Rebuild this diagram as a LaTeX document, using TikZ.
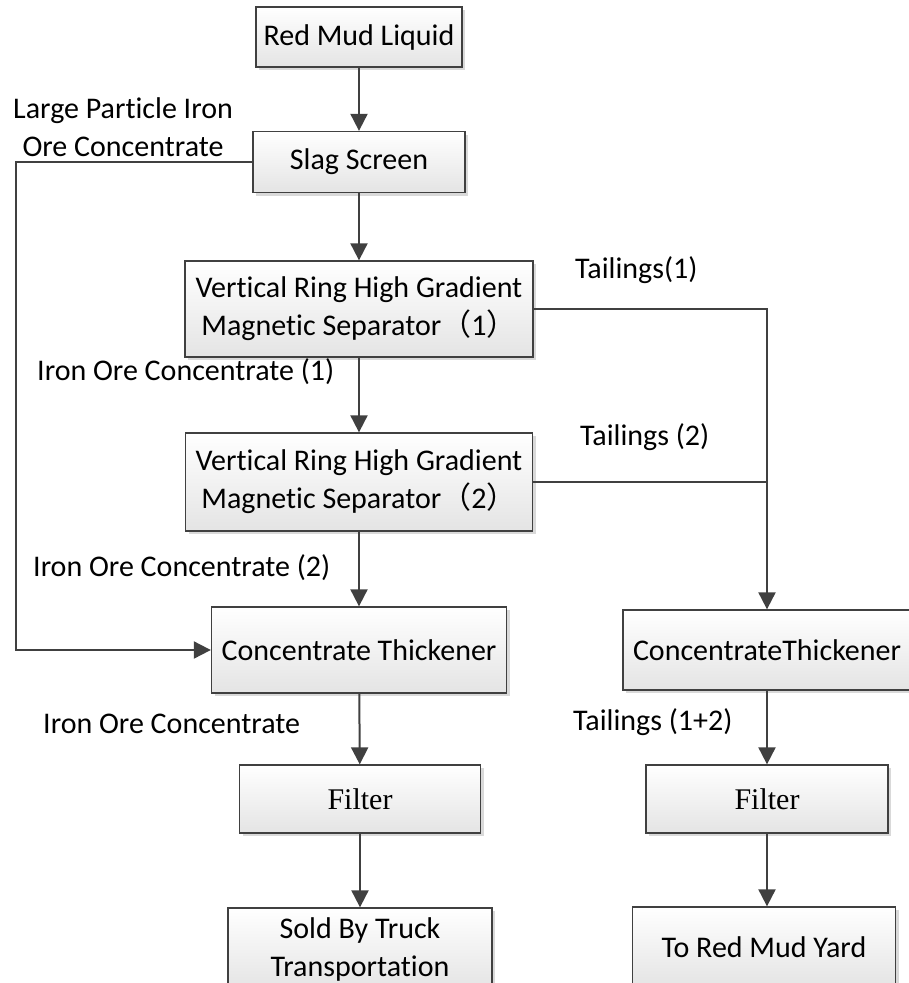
\documentclass[tikz,border=0pt]{standalone}
\usepackage{fontspec}
\setmainfont{Carlito}[Ligatures={NoCommon,NoContextual}]
\newfontfamily\serifrm{Liberation Serif}
\newfontfamily\cjk{Noto Sans CJK SC}
\newcommand{\nolig}{\kern0pt}
\usetikzlibrary{arrows.meta,shadows}
\definecolor{edgegray}{HTML}{404040}
\definecolor{shadegray}{HTML}{E4E4E4}

\begin{document}
\begin{tikzpicture}
[
x=1pt, y=-1pt,
every node/.style={font=\fontsize{30}{38}\selectfont, inner sep=0pt},
proc/.style={draw=edgegray, line width=1.3pt, top color=white, bottom color=shadegray,
  drop shadow={shadow xshift=3pt, shadow yshift=-3pt, fill=black!15, opacity=1}, align=center},
tag/.style={anchor=west, align=center},
flow/.style={draw=edgegray, line width=2pt, -{Triangle[length=17pt,width=17pt]}},
pipe/.style={draw=edgegray, line width=2pt}
]
\useasboundingbox (0,0) rectangle (909,983);

\node[proc, minimum width=206pt, minimum height=60pt] (rml) at (359,37) {Red Mud Liquid};
\node[proc, minimum width=212pt, minimum height=61pt] (slag) at (359,162) {Slag Screen};
\node[proc, minimum width=348pt, minimum height=96pt] (vr1) at (359,309)
	{Vertical Ring High Gradient\\Magnet\nolig ic Separator{\cjk （}1{\cjk ）}};
\node[proc, minimum width=347pt, minimum height=98pt] (vr2) at (359,482)
	{Vertical Ring High Gradient\\Magnet\nolig ic Separator{\cjk （}2{\cjk ）}};
\node[proc, minimum width=295pt, minimum height=86pt] (ct1) at (359,650) {Concentrate Thickener};
\node[proc, minimum width=288pt, minimum height=80pt] (ct2) at (767,650) {ConcentrateThickener};
\node[proc, minimum width=241pt, minimum height=68pt] (fil1) at (360,799) {\serifrm Filter};
\node[proc, minimum width=242pt, minimum height=68pt] (fil2) at (767,799) {\serifrm Filter};
\node[proc, minimum width=264pt, minimum height=82pt] (sold) at (360,949) {Sold By Truck\\Transportat\nolig ion};
\node[proc, minimum width=263pt, minimum height=80pt] (yard) at (764,947) {To Red Mud Yard};

\node[tag] (lgtag) at (13,127) {Large Part\nolig icle Iron\\Ore Concentrate};
\node[tag] (ic1) at (37,372) {Iron Ore Concentrate (1)};
\node[tag] (ic2) at (33,568) {Iron Ore Concentrate (2)};
\node[tag] (ic) at (43,724) {Iron Ore Concentrate};
\node[tag] (t1) at (575,270) {Tailings(1)};
\node[tag] (t2) at (580,437) {Tailings (2)};
\node[tag] (t12) at (573,722) {Tailings (1+2)};

\coordinate (bend) at (16,162);

\draw[flow] (rml) -- (slag);
\draw[flow] (slag) -- (vr1);
\draw[flow] (vr1) -- (vr2);
\draw[flow] (vr2.south) -- (ct1.north);
\draw[flow] (ct1) -- (fil1);
\draw[flow] (fil1) -- (sold);
\draw[flow] (slag.west) -- (bend) |- (ct1.west);
\draw[flow] (vr1.east) -| (ct2.north);
\draw[pipe] (vr2.east) -- (vr2.east -| ct2.north);
\draw[flow] (ct2) -- (fil2);
\draw[flow] (fil2.south) -- (fil2.south |- yard.north);
\end{tikzpicture}
\end{document}
